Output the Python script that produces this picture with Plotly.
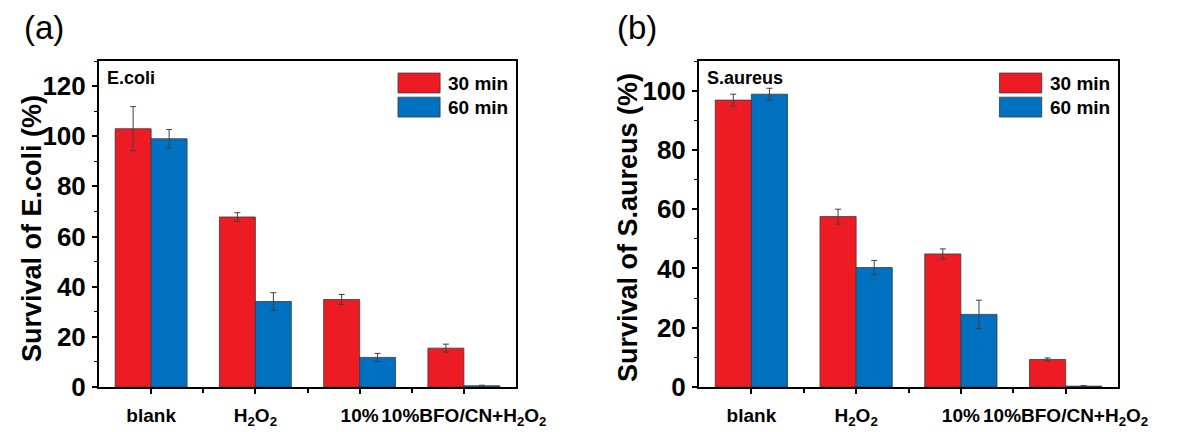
import plotly.graph_objects as go

# ---------------- data ----------------
categories = ["blank", "H<sub>2</sub>O<sub>2</sub>", "10%", "10%BFO/CN+H<sub>2</sub>O<sub>2</sub>"]
series_names = ["30 min", "60 min"]

ecoli_30 = [103.0, 67.8, 34.9, 15.5]
ecoli_30_err = [8.8, 1.7, 2.0, 1.6]
ecoli_60 = [99.0, 34.1, 11.8, 0.5]
ecoli_60_err = [3.7, 3.5, 1.6, 0.2]

saureus_30 = [96.8, 57.5, 44.9, 9.3]
saureus_30_err = [2.0, 2.5, 1.7, 0.5]
saureus_60 = [98.8, 40.3, 24.5, 0.3]
saureus_60_err = [2.0, 2.4, 4.8, 0.2]

panel_labels = ["(a)", "(b)"]
species = ["E.coli", "S.aureus"]
y_titles = ["Survival of E.coli (%)", "Survival of S.aureus (%)"]
y_ranges = [[0, 130], [0, 110]]

# ---------------- style ----------------
RED = "#ED1C24"
BLUE = "#0070C0"
colors = [RED, BLUE]
FONT = "Arial, 'Liberation Sans', sans-serif"
W, H = 1191, 432

xpos = list(range(len(categories)))

fig = go.Figure()

panels = [
    ([ecoli_30, ecoli_60], [ecoli_30_err, ecoli_60_err], "x", "y"),
    ([saureus_30, saureus_60], [saureus_30_err, saureus_60_err], "x2", "y2"),
]

for vals, errs, xa, ya in panels:
    for i in range(2):
        fig.add_trace(go.Bar(
            x=xpos, y=vals[i], name=series_names[i],
            marker=dict(color=colors[i], line=dict(color="#3a3a3a", width=0.8)),
            error_y=dict(type="data", array=errs[i], color="#404040", thickness=1, width=3),
            xaxis=xa, yaxis=ya, showlegend=False, offsetgroup=str(i),
        ))

# domains in pixels
ya_top, ya_bot = 61, 387
panel_x = [(99, 516), (699, 1118)]

def px_x(p):
    return p / W

def px_y(p):
    return 1 - p / H

common_x = dict(
    tickmode="array", tickvals=xpos, ticktext=categories,
    range=[-0.5, len(categories) - 0.5],
    showline=True, linecolor="black", linewidth=2, mirror=True,
    ticks="outside", ticklen=5, tickwidth=1.5, tickcolor="black",
    minor=dict(tickmode="array", tickvals=[p + 0.5 for p in xpos[:-1]],
               ticks="outside", ticklen=4, tickwidth=1.5, tickcolor="black"),
    tickfont=dict(family=FONT, size=19, color="black", weight="bold"),
    tickangle=0, automargin=False,
    showgrid=False, zeroline=False, fixedrange=True, ticklabelstandoff=5,
)
common_y = dict(
    dtick=20, tick0=0,
    showline=True, linecolor="black", linewidth=2, mirror=True,
    ticks="outside", ticklen=5, tickwidth=1.5, tickcolor="black",
    minor=dict(dtick=10, ticks="outside", ticklen=3, tickwidth=1.2, tickcolor="black"),
    tickfont=dict(family=FONT, size=26, color="black", weight="bold"),
    automargin=False, ticklabelstandoff=1,
    showgrid=False, zeroline=False, fixedrange=True,
)

layout = dict(
    width=W, height=H, margin=dict(l=0, r=0, t=0, b=0, autoexpand=False),
    paper_bgcolor="white", plot_bgcolor="white",
    barmode="group", bargap=0.31, bargroupgap=0,
    showlegend=False,
)
for k, (xl, xr) in enumerate(panel_x):
    sfx = "" if k == 0 else "2"
    layout["xaxis" + sfx] = dict(common_x, domain=[px_x(xl), px_x(xr)], anchor="y" + sfx)
    layout["yaxis" + sfx] = dict(common_y, domain=[px_y(ya_bot), px_y(ya_top)],
                                 range=y_ranges[k], anchor="x" + sfx)
fig.update_layout(**layout)

annotations = []
shapes = []
title_x = [32, 628]
title_y = [229, 228]
label_x = [44, 637]
for k in range(2):
    sfx = "" if k == 0 else "2"
    xd = "x" + sfx + " domain"
    yd = "y" + sfx + " domain"
    # panel label
    annotations.append(dict(text=panel_labels[k], xref="paper", yref="paper",
                            x=px_x(label_x[k]), y=px_y(28), xanchor="center", yanchor="middle",
                            showarrow=False, font=dict(family=FONT, size=33, color="black")))
    # y title
    annotations.append(dict(text=y_titles[k], xref="paper", yref="paper", textangle=-90,
                            x=px_x(title_x[k]), y=px_y(title_y[k]), xanchor="center", yanchor="middle",
                            showarrow=False, font=dict(family=FONT, size=27, color="black", weight="bold")))
    # species label
    annotations.append(dict(text=species[k], xref=xd, yref=yd, x=0.014, y=0.948,
                            xanchor="left", yanchor="middle", showarrow=False,
                            font=dict(family=FONT, size=18, color="black", weight="bold")))
    # legend
    leg_rows = [(0.902, 0.963), (0.828, 0.889)]
    for i in range(2):
        y0, y1 = leg_rows[i]
        shapes.append(dict(type="rect", xref=xd, yref=yd, x0=0.717, x1=0.818, y0=y0, y1=y1,
                           fillcolor=colors[i], line=dict(color="#3a3a3a", width=0.8)))
        annotations.append(dict(text=series_names[i], xref=xd, yref=yd, x=0.832, y=(y0 + y1) / 2,
                                xanchor="left", yanchor="middle", showarrow=False,
                                font=dict(family=FONT, size=19, color="black", weight="bold")))

fig.update_layout(annotations=annotations, shapes=shapes)
fig.write_html("out.html")
